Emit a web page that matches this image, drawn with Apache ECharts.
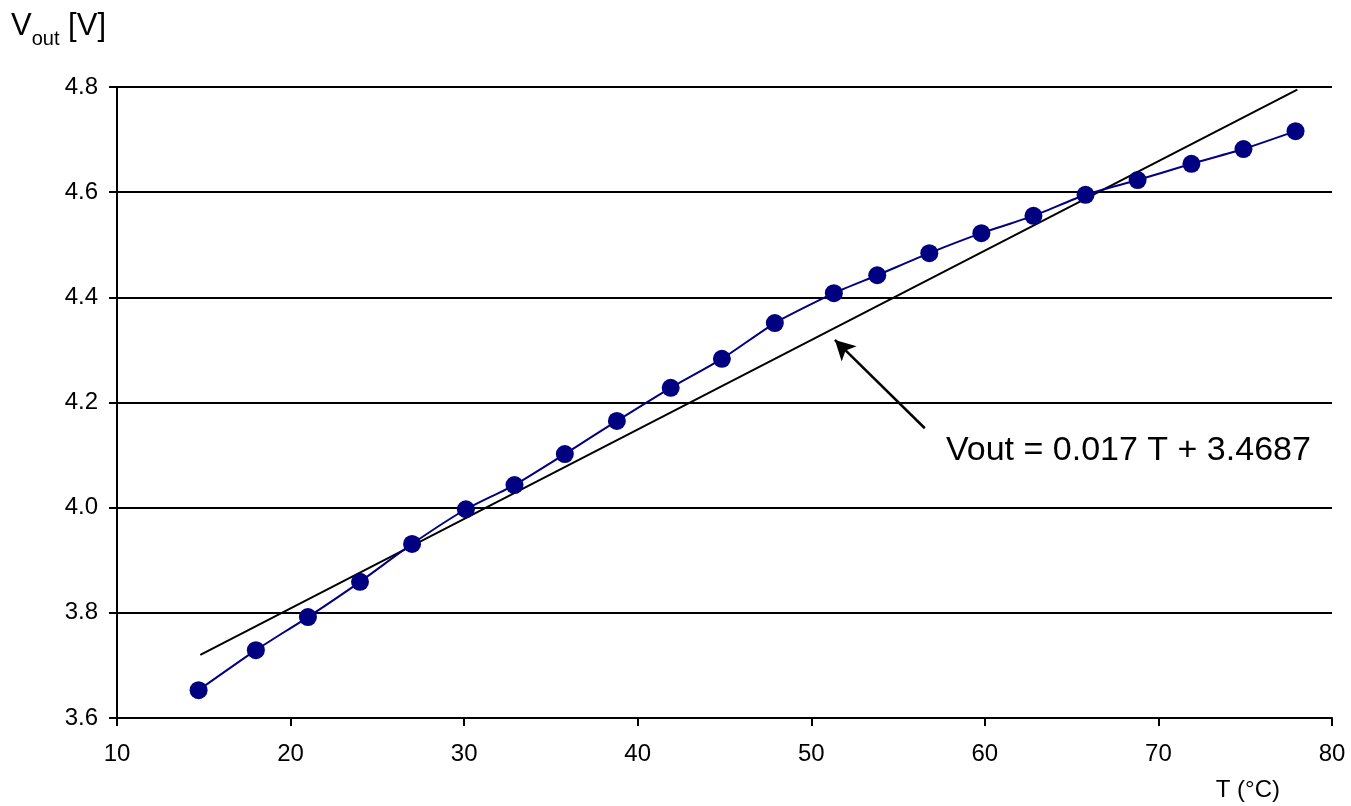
<!DOCTYPE html>
<html>
<head>
<meta charset="utf-8">
<script src="https://cdn.jsdelivr.net/npm/echarts@6/dist/echarts.min.js"></script>
<style>
    html, body {margin: 0; padding: 0; background: #fff;}
    #vout_chart {width: 1351px; height: 806px;}
</style>
</head>
<body>
<div id="vout_chart"></div>
<script>
// measured points (T in °C, Vout in V)
var tempData = [14.7, 18.0, 21.0, 24.0, 27.0, 30.1, 32.9, 35.8, 38.8, 41.9, 44.85, 47.9, 51.3, 53.8, 56.8, 59.8, 62.8, 65.8, 68.8, 71.9, 74.9, 77.9];
var voutData = [3.653, 3.729, 3.792, 3.859, 3.931, 3.997, 4.043, 4.102, 4.165, 4.228, 4.283, 4.351, 4.408, 4.442, 4.484, 4.522, 4.555, 4.595, 4.623, 4.654, 4.682, 4.716];
// fitted line ends
var trendT = [14.8, 78.0];
var trendV = [3.720, 4.795];
var xTicks = [10, 20, 30, 40, 50, 60, 70, 80];
var yTicks = [3.6, 3.8, 4.0, 4.2, 4.4, 4.6, 4.8];
var fitText = 'Vout = 0.017 T + 3.4687';

function zip(a, b) {
    var out = [];
    for (var i = 0; i < a.length; i++) {
        out.push([a[i], b[i]]);
    }
    return out;
}

var font = '"Liberation Sans", Arial, sans-serif';
var myChart = echarts.init(document.getElementById('vout_chart'));
var option = {
    backgroundColor: '#fff',
    animation: false,
    textStyle: {fontFamily: font},
    title: {
        text: '{v|V}{s|out}{v| [V]}',
        left: 11, top: 6, padding: 0,
        textStyle: {
            fontWeight: 'normal',
            rich: {
                v: {fontSize: 31, color: '#000', fontWeight: 'normal', fontFamily: font, verticalAlign: 'bottom', lineHeight: 36},
                s: {fontSize: 20, color: '#000', fontWeight: 'normal', fontFamily: font, verticalAlign: 'bottom', lineHeight: 26, padding: [0, 0, -7, 0]}
            }
        }
    },
    grid: {left: 117, right: 19, top: 87, bottom: 88, containLabel: false},
    xAxis: {
        type: 'value', min: xTicks[0], max: xTicks[xTicks.length - 1], interval: 10,
        name: 'T (°C)', nameLocation: 'end', nameGap: 0,
        nameTextStyle: {fontSize: 24, color: '#000', fontFamily: font, align: 'right', verticalAlign: 'top', padding: [60, 52, 0, 0]},
        axisLine: {show: true, onZero: false, lineStyle: {color: '#000', width: 2}},
        axisTick: {show: true, inside: false, length: 8, lineStyle: {color: '#000', width: 2}},
        axisLabel: {fontSize: 24, color: '#000', margin: 24},
        splitLine: {show: false}
    },
    yAxis: {
        type: 'value', min: yTicks[0], max: yTicks[yTicks.length - 1], interval: 0.2,
        axisLine: {show: true, lineStyle: {color: '#000', width: 2}},
        axisTick: {show: true, inside: false, length: 8, lineStyle: {color: '#000', width: 2}},
        axisLabel: {fontSize: 24, color: '#000', margin: 19, formatter: function (v) { return v.toFixed(1); }},
        splitLine: {show: true, lineStyle: {color: '#000', width: 2}}
    },
    graphic: [
        {type: 'text', left: 946, top: 434, style: {text: fitText, font: '34px ' + font, fill: '#000'}}
    ],
    series: [
        {
            name: 'fit', type: 'line', data: zip(trendT, trendV),
            symbol: 'none', lineStyle: {color: '#000', width: 2}, z: 2,
            markLine: {
                silent: true, symbolSize: [16, 20],
                lineStyle: {color: '#000', width: 2.5, type: 'solid'},
                label: {show: false},
                data: [[
                    {coord: [56.54, 4.151], symbol: 'none'},
                    {coord: [51.36, 4.319], symbol: 'arrow'}
                ]]
            }
        },
        {
            name: 'Vout', type: 'line', data: zip(tempData, voutData),
            smooth: 0.2, symbol: 'circle', symbolSize: 18,
            itemStyle: {color: '#000080'},
            lineStyle: {color: '#000080', width: 2}, z: 3
        }
    ]
};
myChart.setOption(option);
</script>
</body>
</html>
